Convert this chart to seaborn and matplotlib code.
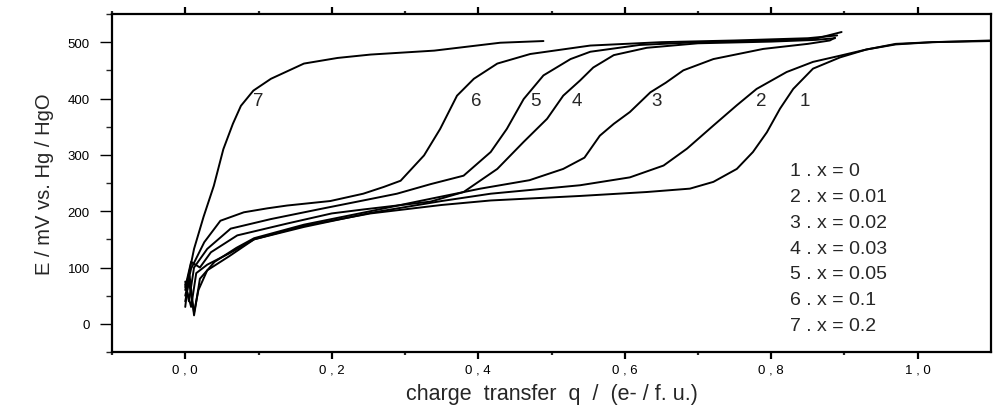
import matplotlib
matplotlib.use("Agg")
import matplotlib.pyplot as plt
import seaborn as sns
import pandas as pd
from matplotlib.ticker import FixedLocator

# ---------------- data ----------------
q1 = [0.000, 0.005, 0.012, 0.018, 0.030, 0.060, 0.094, 0.162, 0.253, 0.350, 0.417, 0.539, 0.630,
      0.689, 0.721, 0.753, 0.775, 0.794, 0.812, 0.830, 0.857, 0.894, 0.930, 0.970, 1.020, 1.100]
E1 = [40, 75, 20, 60, 95, 120, 150, 174, 196, 211, 219, 227, 234,
      240, 252, 275, 305, 340, 382, 417, 453, 473, 487, 497, 500, 503]

q2 = [0.000, 0.008, 0.015, 0.030, 0.060, 0.094, 0.162, 0.253, 0.350, 0.417, 0.539, 0.607, 0.653,
      0.685, 0.721, 0.753, 0.780, 0.821, 0.857, 0.894, 0.930, 0.970, 1.020, 1.100]
E2 = [70, 30, 90, 105, 125, 150, 172, 197, 218, 231, 246, 260, 281,
      311, 352, 388, 417, 447, 465, 476, 487, 496, 500, 502]

q3 = [0.000, 0.006, 0.012, 0.020, 0.040, 0.070, 0.094, 0.162, 0.253, 0.335, 0.403, 0.470, 0.516,
      0.545, 0.566, 0.585, 0.607, 0.635, 0.656, 0.680, 0.721, 0.789, 0.850, 0.880, 0.887]
E3 = [50, 85, 15, 80, 110, 135, 152, 176, 200, 222, 240, 255, 275,
      295, 334, 355, 376, 411, 428, 450, 470, 488, 497, 503, 508]

q4 = [0.000, 0.008, 0.020, 0.035, 0.071, 0.139, 0.200, 0.243, 0.335, 0.380, 0.426, 0.462, 0.494,
      0.516, 0.539, 0.557, 0.585, 0.630, 0.700, 0.800, 0.860, 0.887]
E4 = [65, 110, 100, 127, 157, 178, 196, 203, 217, 234, 275, 323, 364,
      405, 432, 455, 477, 490, 498, 501, 504, 507]

q5 = [0.000, 0.005, 0.012, 0.030, 0.062, 0.117, 0.185, 0.243, 0.289, 0.335, 0.380, 0.417, 0.439,
      0.462, 0.489, 0.526, 0.553, 0.620, 0.700, 0.800, 0.860, 0.896]
E5 = [75, 40, 100, 133, 169, 186, 204, 219, 231, 248, 263, 305, 346,
      399, 441, 470, 483, 495, 500, 503, 506, 518]

q6 = [0.000, 0.004, 0.008, 0.026, 0.048, 0.080, 0.112, 0.139, 0.198, 0.243, 0.271, 0.294, 0.326,
      0.348, 0.371, 0.394, 0.426, 0.471, 0.553, 0.650, 0.750, 0.850, 0.890]
E6 = [30, 75, 98, 145, 183, 198, 205, 210, 218, 231, 243, 254, 299,
      346, 405, 435, 462, 479, 494, 500, 503, 507, 512]

q7 = [0.000, 0.006, 0.012, 0.025, 0.039, 0.052, 0.065, 0.076, 0.093, 0.117, 0.162, 0.208, 0.253,
      0.340, 0.430, 0.489]
E7 = [60, 95, 133, 190, 245, 310, 355, 387, 414, 435, 462, 472, 478,
      485, 499, 502]

curve_ids = ["1", "2", "3", "4", "5", "6", "7"]
legend_labels = ["1 . x = 0", "2 . x = 0.01", "3 . x = 0.02", "4 . x = 0.03",
                 "5 . x = 0.05", "6 . x = 0.1", "7 . x = 0.2"]
x_tick_values = [0.0, 0.2, 0.4, 0.6, 0.8, 1.0]
x_tick_labels = ["0 , 0", "0 , 2", "0 , 4", "0 , 6", "0 , 8", "1 , 0"]
y_tick_values = [0, 100, 200, 300, 400, 500]
y_tick_labels = ["0", "100", "200", "300", "400", "500"]

# ---------------- build long table ----------------
series_q = [q1, q2, q3, q4, q5, q6, q7]
series_E = [E1, E2, E3, E4, E5, E6, E7]
frames = []
for cid, qq, ee in zip(curve_ids, series_q, series_E):
    frames.append(pd.DataFrame({"q": qq, "E": ee, "curve": cid}))
df = pd.concat(frames, ignore_index=True)

# ---------------- styling ----------------
sns.set_style("ticks")
plt.rcParams["font.family"] = ["Liberation Sans", "DejaVu Sans"]

fig = plt.figure(figsize=(9.93, 4.06), dpi=100)
ax = fig.add_axes([112 / 993, 1 - 353 / 406, (991 - 112) / 993, (353 - 15) / 406])

sns.lineplot(data=df, x="q", y="E", hue="curve", units="curve", estimator=None,
             sort=False, palette=["black"] * 7, linewidth=1.4, legend=False, ax=ax)

ax.set_xlim(-0.1, 1.1)
ax.set_ylim(-50, 550)

for s in ax.spines.values():
    s.set_linewidth(1.6)
    s.set_color("black")

ax.set_xticks(x_tick_values)
ax.set_xticklabels(x_tick_labels)
ax.xaxis.set_minor_locator(FixedLocator([-0.1, 0.1, 0.3, 0.5, 0.7, 0.9]))
ax.set_yticks(y_tick_values)
ax.set_yticklabels(y_tick_labels)
ax.yaxis.set_minor_locator(FixedLocator([-50, 50, 150, 250, 350, 450, 550]))

ax.tick_params(axis="x", which="major", direction="out", length=5, width=1.6,
               top=True, bottom=True, labelsize=9.5, pad=3.5, colors="black")
ax.tick_params(axis="x", which="minor", direction="out", length=2.5, width=1.6,
               top=True, bottom=True)
ax.tick_params(axis="y", which="major", direction="out", length=9, width=1.0,
               left=True, right=False, labelsize=9.5, pad=7, colors="black")
ax.tick_params(axis="y", which="minor", direction="out", length=4.5, width=1.0,
               left=True, right=False)

ax.set_xlabel("charge  transfer  q  /  (e- / f. u.)", fontsize=15.5, labelpad=5)
ax.set_ylabel("E / mV vs. Hg / HgO", fontsize=14.5, labelpad=10)

# curve number labels
label_pos = {"7": (0.100, 396), "6": (0.397, 396), "5": (0.478, 396), "4": (0.535, 396),
             "3": (0.644, 396), "2": (0.786, 396), "1": (0.846, 396)}
for cid in curve_ids:
    x, y = label_pos[cid]
    ax.text(x, y, cid, fontsize=13.5, ha="center", va="center")

# legend text block
for i, lab in enumerate(legend_labels):
    ax.text(0.826, 272 - i * 45.8, lab, fontsize=14, ha="left", va="center")

fig.savefig("out.png", dpi=100)
